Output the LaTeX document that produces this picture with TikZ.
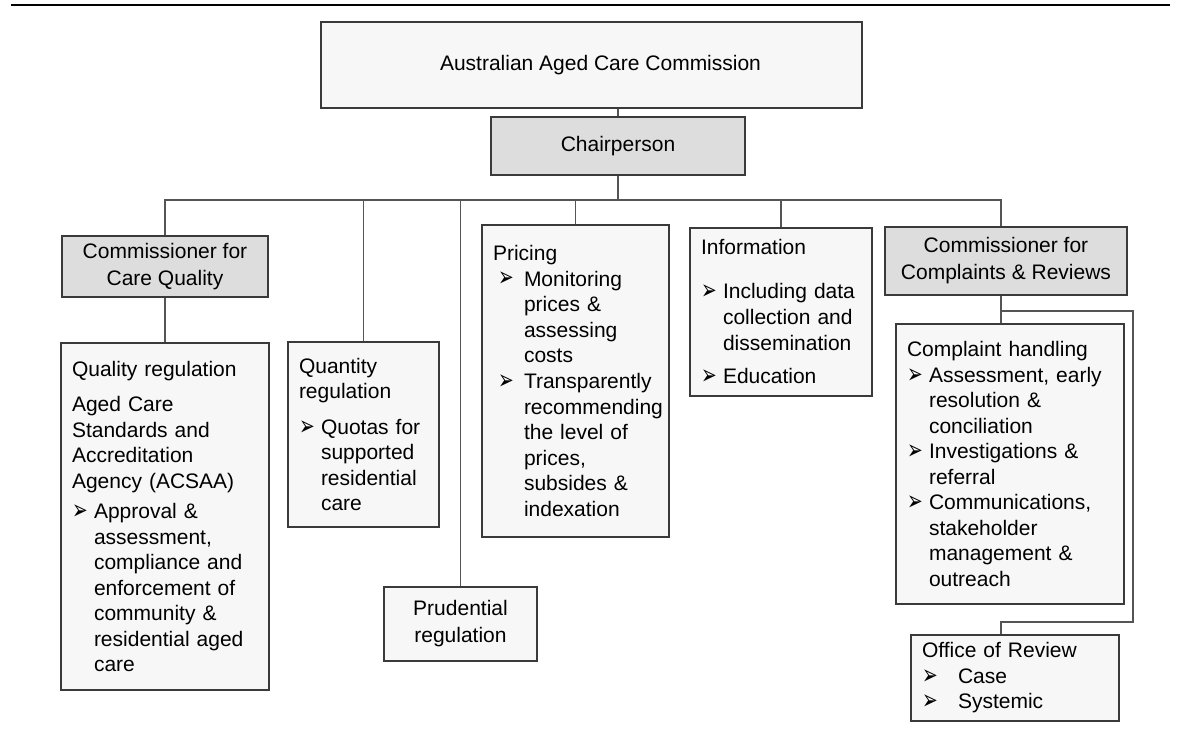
\documentclass[tikz,border=0pt]{standalone}
\usepackage{fontspec}
\setmainfont{Liberation Sans}
\newfontfamily\arrowfont{DejaVu Sans}
\definecolor{boxgray}{HTML}{F7F7F7}
\definecolor{headgray}{HTML}{DDDDDD}
\definecolor{edgegray}{HTML}{3A3A3A}
\definecolor{wiregray}{HTML}{555555}
\newcommand{\bitem}[1][11pt]{\makebox[#1][l]{\raisebox{-0.4pt}{\scalebox{0.78}[1.15]{\fontsize{12}{12}\arrowfont ➢}}}}
\newcommand{\bcont}[1][11pt]{\hspace*{#1}}
\newcommand{\nohyph}{\hyphenpenalty=10000\relax\exhyphenpenalty=10000\relax}
\tikzstyle{unit} = [rectangle, draw=edgegray, line width=0.6pt, fill=boxgray, inner xsep=5.5pt, inner ysep=0pt, align=left, font=\fontsize{10.5}{12.75}\selectfont\nohyph]
\tikzstyle{head} = [unit, fill=headgray, align=center, font=\fontsize{10.5}{13.5}\selectfont]
\tikzstyle{link} = [draw=wiregray, line width=0.6pt]

\begin{document}
\begin{tikzpicture}[x=0.5pt, y=-0.5pt]
    \useasboundingbox (0,0) rectangle (1178,731);
    \draw [line width=1.2pt] (11,5) -- (1170,5);

    \node [unit, align=center, minimum width=270.5pt, minimum height=43pt]	(aacc)		at (591.5,65)	{\hspace*{9pt}Australian Aged Care Commission};
    \node [head, minimum width=127pt, minimum height=29pt]				(chair)		at (618,146)	{Chairperson};
    \coordinate (bus) at (618,200);
    \node [head, minimum width=103pt, minimum height=30.5pt]			(ccq)		at (165,266.5)	{Commissioner for\\Care Quality};
    \node [unit, text width=93pt, minimum height=173.5pt]				(qual)		at (165,516.5)	{Quality regulation\\[4.75pt]
        Aged Care\\ Standards and\\ Accreditation\\ Agency (ACSAA)\\[2.5pt]
        \bitem Approval \&\\ \bcont assessment,\\ \bcont compliance and\\ \bcont enforcement of\\ \bcont community \&\\ \bcont residential aged\\ \bcont care};
    \node [unit, text width=64.5pt, minimum height=92.5pt]				(quant)		at (363.5,434.5)	{Quantity\\ regulation\\[5pt]
        \bitem Quotas for\\ \bcont supported\\ \bcont residential\\ \bcont care};
    \node [unit, align=center, minimum width=76.5pt, minimum height=37pt, font=\fontsize{10.5}{13.5}\selectfont]	(prud)	at (460.5,624)	{Prudential\\ regulation};
    \node [unit, text width=82.5pt, minimum height=156pt, font=\fontsize{10.5}{12.8}\selectfont\nohyph]	(price)	at (575.5,381)	{Pricing\\
        \bcont[2.5pt]\bitem[9.5pt] Monitoring\\ \bcont[12pt] prices \&\\ \bcont[12pt] assessing\\ \bcont[12pt] costs\\
        \bcont[2.5pt]\bitem[9.5pt] Transparently\\ \bcont[12pt] recommending\\ \bcont[12pt] the level of\\ \bcont[12pt] prices,\\ \bcont[12pt] subsides \&\\ \bcont[12pt] indexation};
    \node [unit, text width=80pt, minimum height=84pt, font=\fontsize{10.5}{13}\selectfont\nohyph]	(info)	at (781,312)	{Information\\[9pt]
        \bitem Including data\\ \bcont collection and\\ \bcont dissemination\\[3.5pt] \bitem Education};
    \node [head, minimum width=121pt, minimum height=34pt]				(ccr)		at (1006,261)	{Commissioner for\\Complaints \& Reviews};
    \node [unit, text width=103pt, minimum height=140pt]				(compl)		at (1010,464)	{Complaint handling\\
        \bitem Assessment, early\\ \bcont resolution \&\\ \bcont conciliation\\
        \bitem Investigations \&\\ \bcont referral\\
        \bitem Communications,\\ \bcont stakeholder\\ \bcont management \&\\ \bcont outreach};
    \node [unit, text width=93pt, minimum height=43pt]					(office)	at (1015,678)	{Office of Review\\
        \bitem[14.5pt] Case\\ \bitem[14.5pt] Systemic};
    \coordinate (split) at (1001,311);
    \coordinate (loop) at (1133,622);

    \draw [link] (aacc.south -| chair) -- (chair.north);
    \draw [link] (chair) -- (bus);
    \draw [link] (ccq.north) |- (bus) -| (split |- ccr.north);
    \draw [link] (ccq) -- (qual);
    \draw [link] (quant.north) -- (quant.north |- bus);
    \draw [link] (prud.north) -- (prud.north |- bus);
    \draw [link] (price.north) -- (price.north |- bus);
    \draw [link] (info.north) -- (info.north |- bus);
    \draw [link] (split |- ccr.south) -- (split |- compl.north);
    \draw [link] (split) -| (loop) -| (split |- office.north);
\end{tikzpicture}
\end{document}
